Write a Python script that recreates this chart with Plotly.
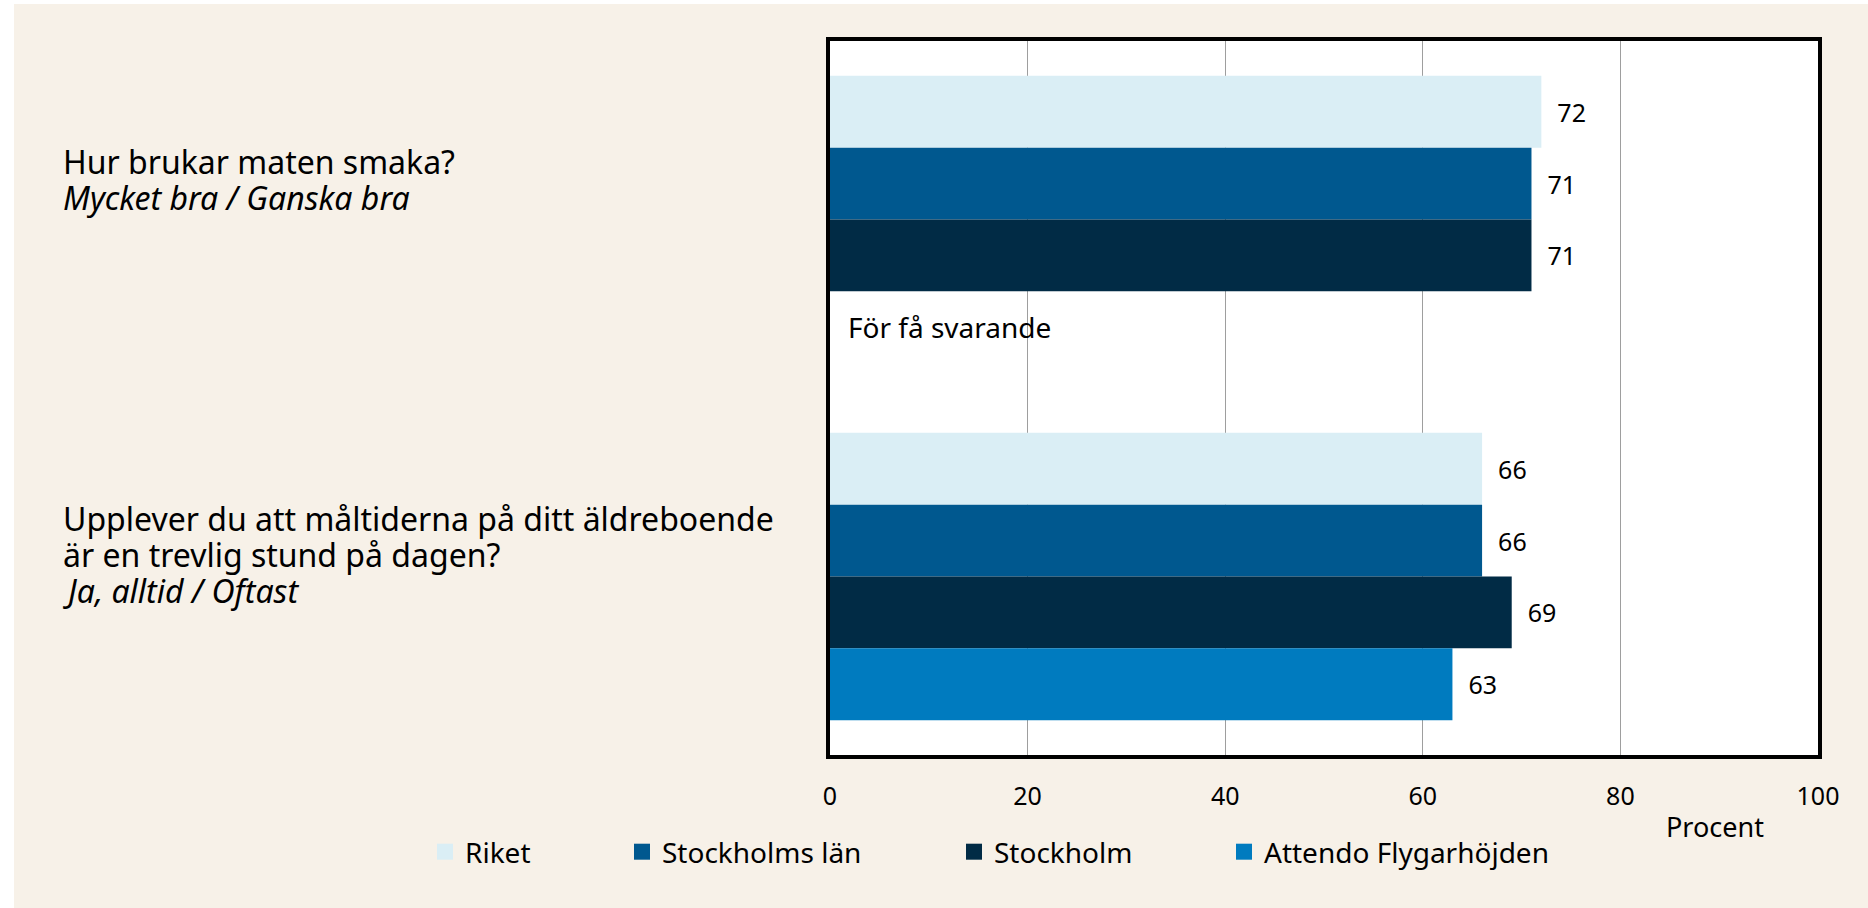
import plotly.graph_objects as go

# data
fragor = [["Hur brukar maten smaka?", "<i>Mycket bra / Ganska bra</i>"],
          ["Upplever du att måltiderna på ditt äldreboende", "är en trevlig stund på dagen?",
           "<i>Ja, alltid / Oftast</i>"]]
kategorier = ["maten", "maltiderna"]
serier = ["Riket", "Stockholms län", "Stockholm", "Attendo Flygarhöjden"]
riket = [72, 66]
stockholms_lan = [71, 66]
stockholm = [71, 69]
attendo = [None, 63]
farger = ["#DAEEF5", "#00588F", "#012B45", "#007BBF"]
notering = "För få svarande"

W, H = 1868, 908
L, R, T, B = 830, 50, 41, 153
pw, ph = W - L - R, H - T - B
FONT = "Noto Sans"
BARGAP = 0.195


def px_x(p):
    return (p - L) / pw


def px_y(p):
    return (H - B - p) / ph


fig = go.Figure()
varden = [riket, stockholms_lan, stockholm, attendo]
legend_x = [425, 622, 954, 1224]
for i, (namn, v, f) in enumerate(zip(serier, varden, farger)):
    fig.add_trace(go.Bar(
        y=kategorier, x=v, orientation="h", name=namn,
        marker=dict(color=f, line=dict(width=0)),
        text=["\u00a0\u00a0" + str(a) if a is not None else "" for a in v],
        textposition="outside", cliponaxis=False,
        textfont=dict(family=FONT, size=25, color="black"),
        showlegend=False, hoverinfo="skip",
    ))
    # legend swatch, one legend per entry
    lg = "legend" if i == 0 else "legend%d" % (i + 1)
    fig.add_trace(go.Scatter(
        x=[None], y=[None], mode="markers", name=namn, legend=lg,
        marker=dict(symbol="square", size=16, color=f),
    ))
    fig.update_layout({lg: dict(orientation="h", xref="container", yref="container",
                                x=legend_x[i] / W, y=1 - 827 / H, xanchor="left", yanchor="top",
                                bgcolor="rgba(0,0,0,0)", itemsizing="trace",
                                font=dict(family=FONT, size=28, color="black"))})

# background
fig.add_shape(type="rect", xref="paper", yref="paper", layer="below",
              x0=px_x(14), x1=px_x(W), y0=px_y(H), y1=px_y(4),
              fillcolor="#F7F1E8", line=dict(width=0))
fig.add_shape(type="rect", xref="paper", yref="paper", layer="below",
              x0=0, x1=1, y0=0, y1=1, fillcolor="white", line=dict(width=0))

# question texts, left aligned, one annotation per line (tight line spacing)
FS = 32
RADAVSTAND = 35.8
for k, rader in zip(kategorier, fragor):
    for j, rad in enumerate(rader):
        baslinje = -42.3 + RADAVSTAND * j
        fig.add_annotation(x=px_x(62), xref="paper", y=k, yref="y", text=rad,
                           xanchor="left", yanchor="middle", align="left",
                           yshift=-(baslinje - 0.39 * FS) + 3, borderpad=0,
                           showarrow=False, font=dict(family=FONT, size=FS, color="black"))

slot = ph / len(kategorier) * (1 - BARGAP) / len(serier)
fig.add_annotation(x=0, xref="x", y=kategorier[0], yref="y", text=notering,
                   xanchor="left", yanchor="middle", xshift=16, yshift=-1.5 * slot, showarrow=False,
                   font=dict(family=FONT, size=28, color="black"))

fig.add_annotation(x=px_x(1715), xref="paper", y=px_y(826), yref="paper", text="Procent",
                   xanchor="center", yanchor="middle",
                   showarrow=False, font=dict(family=FONT, size=27, color="black"))

fig.update_layout(
    width=W, height=H,
    margin=dict(l=L, r=R, t=T, b=B),
    barmode="group", bargap=BARGAP, bargroupgap=0,
    paper_bgcolor="white", plot_bgcolor="rgba(0,0,0,0)",
    font=dict(family=FONT, size=26, color="black"),
)
fig.update_xaxes(range=[0, 100], dtick=20, tick0=0, showgrid=True, gridcolor="#9E9E9E",
                 gridwidth=1, zeroline=False, showline=True, mirror=True, linewidth=4,
                 linecolor="black", ticks="outside", ticklen=16, tickcolor="rgba(0,0,0,0)",
                 tickfont=dict(family=FONT, size=25, color="black"), fixedrange=True)
fig.update_yaxes(autorange="reversed", showticklabels=False, showgrid=False, zeroline=False,
                 showline=True, mirror=True, linewidth=4, linecolor="black", ticks="")

fig.write_html("out.html", config={"displayModeBar": False},
               post_script="document.body.style.margin='0px';")
